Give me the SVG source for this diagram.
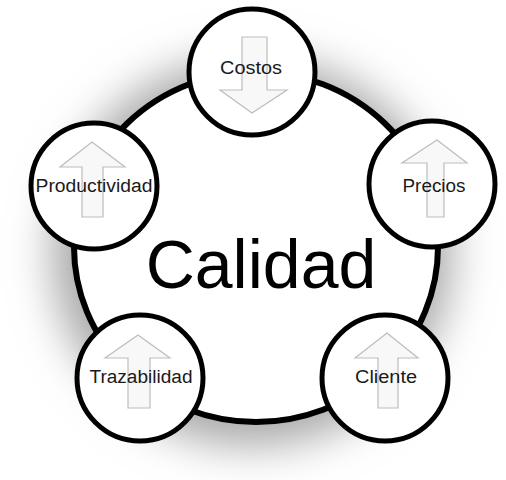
<svg xmlns="http://www.w3.org/2000/svg" width="506" height="480" viewBox="0 0 506 480">
<defs>
<filter id="blur" x="-30%" y="-30%" width="160%" height="160%"><feGaussianBlur stdDeviation="22"/></filter>
<style>
.ring{fill:#fff;stroke:#000;stroke-width:6}
.node{fill:#fff;stroke:#000;stroke-width:5}
.arrow{fill:#f8f8f8;stroke:#bdbdbd;stroke-width:1.2;stroke-linejoin:miter}
.lbl{font-family:"Liberation Sans",Arial,sans-serif;font-size:18px;fill:#1a1a1a;text-anchor:middle}
.big{font-family:"Liberation Sans",Arial,sans-serif;font-size:68px;fill:#000;text-anchor:middle}
</style>
</defs>
<rect width="506" height="480" fill="#fff"/>
<ellipse cx="252" cy="252" rx="200" ry="194" fill="#a8a8a8" filter="url(#blur)"/>
<g id="calidad">
<ellipse class="ring" cx="256" cy="247" rx="182" ry="175"/>
<text class="big" x="261" y="288">Calidad</text>
</g>
<g id="connectors"></g>
<g id="costos">
<circle class="node" cx="252" cy="72" r="63"/>
<polygon class="arrow" points="242,37 267,37 267,90 287,90 252,113 220,90 242,90"/>
<text class="lbl" x="251" y="74" textLength="62" lengthAdjust="spacingAndGlyphs">Costos</text>
</g>
<g id="productividad">
<circle class="node" cx="94" cy="186" r="63"/>
<polygon class="arrow" points="92,142 125,167 103,167 103,217 82,217 82,167 60,167"/>
<text class="lbl" x="94" y="192" textLength="117" lengthAdjust="spacingAndGlyphs">Productividad</text>
</g>
<g id="precios">
<circle class="node" cx="432" cy="184" r="63"/>
<polygon class="arrow" points="437,140 467,163 444,163 444,217 427,217 427,163 402,163"/>
<text class="lbl" x="434" y="192" textLength="63" lengthAdjust="spacingAndGlyphs">Precios</text>
</g>
<g id="trazabilidad">
<circle class="node" cx="140" cy="378" r="63"/>
<polygon class="arrow" points="138,335 170,358 150,358 150,408 128,408 128,358 105,358"/>
<text class="lbl" x="141" y="383" textLength="103" lengthAdjust="spacingAndGlyphs">Trazabilidad</text>
</g>
<g id="cliente">
<circle class="node" cx="385" cy="378" r="63"/>
<polygon class="arrow" points="387,333 418,358 398,358 398,408 378,408 378,358 355,358"/>
<text class="lbl" x="386" y="383" textLength="62" lengthAdjust="spacingAndGlyphs">Cliente</text>
</g>
</svg>
